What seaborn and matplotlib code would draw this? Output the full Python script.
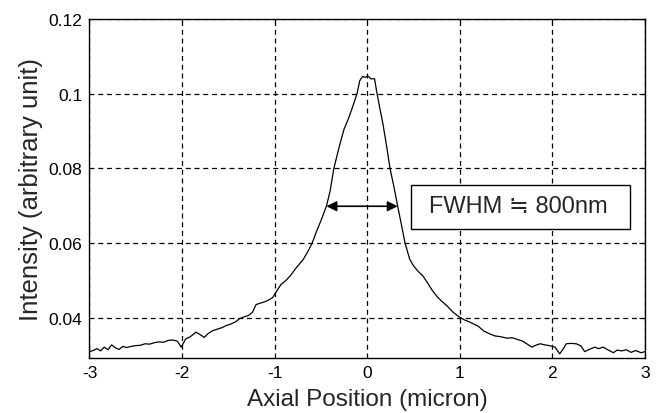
import matplotlib
matplotlib.use("Agg")
import matplotlib.pyplot as plt
from matplotlib.patches import Rectangle
import seaborn as sns
import pandas as pd

# ---- data ----
pos = [-3.00, -2.96, -2.92, -2.88, -2.84, -2.80, -2.76, -2.72, -2.68, -2.64,
       -2.60, -2.55, -2.50, -2.45, -2.40, -2.35, -2.30, -2.25, -2.20, -2.15,
       -2.10, -2.05, -2.01, -1.96, -1.91, -1.85, -1.80, -1.76, -1.72, -1.67,
       -1.62, -1.57, -1.52, -1.47, -1.42, -1.38, -1.33, -1.28, -1.24, -1.20,
       -1.15, -1.10, -1.05, -1.02, -0.97, -0.93, -0.88, -0.83, -0.78, -0.74,
       -0.69, -0.64, -0.595, -0.55, -0.50, -0.44, -0.40, -0.36, -0.30, -0.25,
       -0.20, -0.15, -0.11, -0.08, -0.05, -0.02, 0.01, 0.04, 0.08, 0.10,
       0.13, 0.17, 0.21, 0.247, 0.29, 0.33, 0.37, 0.41, 0.46, 0.50,
       0.55, 0.60, 0.65, 0.70, 0.76, 0.80, 0.86, 0.93, 1.00, 1.05,
       1.10, 1.15, 1.20, 1.26, 1.33, 1.38, 1.44, 1.51, 1.57, 1.62,
       1.68, 1.73, 1.78, 1.83, 1.87, 1.92, 1.97, 2.03, 2.08, 2.12,
       2.15, 2.20, 2.26, 2.31, 2.35, 2.40, 2.46, 2.50, 2.55, 2.60,
       2.66, 2.70, 2.75, 2.80, 2.85, 2.90, 2.96, 3.00]
intensity = [0.0310, 0.0313, 0.0318, 0.0312, 0.0322, 0.0315, 0.0328, 0.0320, 0.0316, 0.0324,
             0.0321, 0.0324, 0.0326, 0.0327, 0.0331, 0.0330, 0.0334, 0.0336, 0.0335, 0.0340,
             0.0341, 0.0338, 0.0322, 0.0344, 0.0350, 0.0362, 0.0355, 0.0348, 0.0358, 0.0366,
             0.0370, 0.0374, 0.0380, 0.0384, 0.0390, 0.0398, 0.0403, 0.0407, 0.0415, 0.0436,
             0.0440, 0.0444, 0.0450, 0.0455, 0.0475, 0.0490, 0.0500, 0.0513, 0.0530, 0.0542,
             0.0557, 0.0578, 0.0600, 0.0630, 0.0660, 0.0699, 0.0740, 0.0800, 0.0860, 0.0905,
             0.0935, 0.0970, 0.1000, 0.1035, 0.1046, 0.1044, 0.1047, 0.1040, 0.1040, 0.1010,
             0.0970, 0.0920, 0.0860, 0.0800, 0.0750, 0.0699, 0.0650, 0.0600, 0.0557, 0.0540,
             0.0525, 0.0513, 0.0495, 0.0475, 0.0456, 0.0446, 0.0433, 0.0415, 0.0402, 0.0395,
             0.0390, 0.0384, 0.0378, 0.0365, 0.0357, 0.0352, 0.0350, 0.0346, 0.0347, 0.0343,
             0.0338, 0.0330, 0.0322, 0.0328, 0.0331, 0.0328, 0.0326, 0.0322, 0.0304, 0.0318,
             0.0331, 0.0332, 0.0331, 0.0325, 0.0310, 0.0316, 0.0322, 0.0318, 0.0322, 0.0315,
             0.0307, 0.0314, 0.0312, 0.0315, 0.0308, 0.0313, 0.0307, 0.0310]

x_ticks = [-3, -2, -1, 0, 1, 2, 3]
x_tick_labels = ["-3", "-2", "-1", "0", "1", "2", "3"]
y_ticks = [0.04, 0.06, 0.08, 0.1, 0.12]
y_tick_labels = ["0.04", "0.06", "0.08", "0.1", "0.12"]
fwhm_left, fwhm_right, fwhm_level = -0.44, 0.33, 0.0699
fwhm_text = "FWHM \u2252 800nm"

sns.set_style("white")
plt.rcParams["font.family"] = ["Liberation Sans", "DejaVu Sans"]

df = pd.DataFrame({"pos": pos, "intensity": intensity})

fig = plt.figure(figsize=(6.56, 4.14), dpi=100)
ax = fig.add_axes([0.1364, 0.1329, 0.8466, 0.8188])

sns.lineplot(data=df, x="pos", y="intensity", ax=ax, color="black", linewidth=0.9)

ax.set_xlim(-3, 3)
ax.set_ylim(0.0293, 0.12)
ax.set_xticks(x_ticks)
ax.set_xticklabels(x_tick_labels)
ax.set_yticks(y_ticks)
ax.set_yticklabels(y_tick_labels)
ax.grid(True, color="black", linestyle=(0, (4, 3)), linewidth=0.9)
ax.tick_params(direction="in", length=4, width=0.8, labelsize=12.5,
               top=True, right=True, colors="black", pad=5)
for s in ax.spines.values():
    s.set_color("black")
    s.set_linewidth(1.0)

ax.set_xlabel("Axial Position (micron)", fontsize=17.5, labelpad=6)
ax.set_ylabel("Intensity (arbitrary unit)", fontsize=18.5, labelpad=4)

ax.annotate("", xy=(fwhm_left, fwhm_level), xytext=(fwhm_right, fwhm_level),
            arrowprops=dict(arrowstyle="<|-|>", color="black", lw=1.2,
                            shrinkA=0, shrinkB=0, mutation_scale=15))
ax.add_patch(Rectangle((0.47, 0.0637), 2.37, 0.0120, facecolor="white",
                       edgecolor="black", linewidth=1.0, zorder=4))
ax.text(1.63, fwhm_level, fwhm_text, fontsize=17, ha="center", va="center",
        family=["Liberation Sans", "DejaVu Sans"], zorder=5)

fig.savefig("out.png", dpi=100)
